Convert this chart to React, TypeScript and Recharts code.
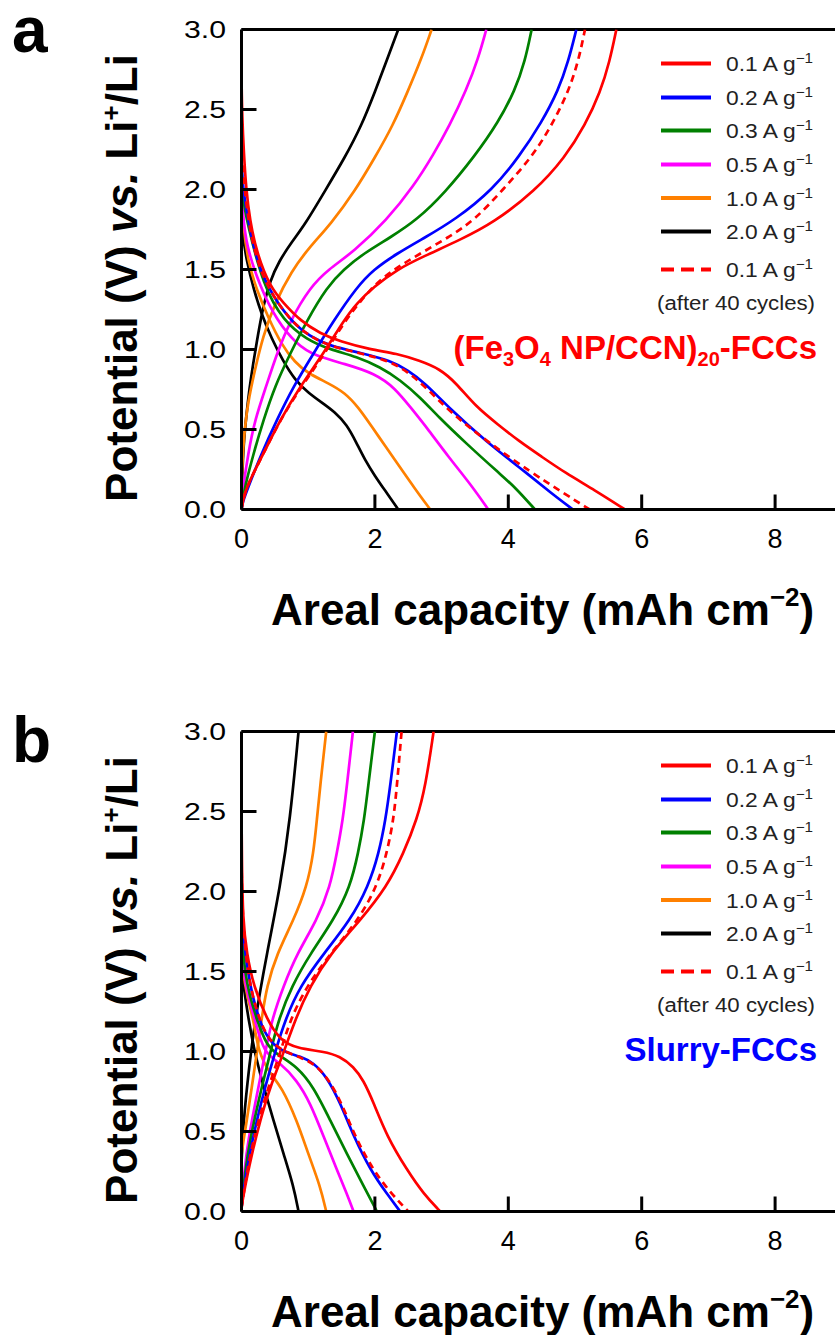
import React from 'react';
import { LineChart, Line, XAxis, YAxis, ReferenceLine, Legend, Label } from 'recharts';

type P = [number, number];

// ---------- axis ticks ----------
const xTicks = [0, 2, 4, 6, 8];
const yTicks = [0, 0.5, 1, 1.5, 2, 2.5, 3];

// ---------- legend ----------
const rateLabels = ['0.1', '0.2', '0.3', '0.5', '1.0', '2.0', '0.1'];
const rateColors = ['#ff0000', '#0000ff', '#008000', '#ff00ff', '#ff8000', '#000000', '#ff0000'];
const rateDashed = [false, false, false, false, false, false, true];

// ---------- panel a : (Fe3O4 NP/CCN)20-FCCs ----------
const aBlackDis: P[] = [[0, 1.88], [0.02, 1.7], [0.08, 1.55], [0.18, 1.38], [0.3, 1.22], [0.45, 1.07], [0.62, 0.93], [0.8, 0.81], [1.0, 0.73], [1.2, 0.67], [1.4, 0.61], [1.58, 0.53], [1.72, 0.42], [1.85, 0.31], [2.0, 0.21], [2.15, 0.12], [2.35, 0]];
const aBlackChg: P[] = [[0, 0.02], [0.01, 0.2], [0.03, 0.4], [0.07, 0.58], [0.12, 0.76], [0.17, 0.9], [0.25, 1.1], [0.33, 1.28], [0.43, 1.43], [0.56, 1.55], [0.75, 1.67], [0.95, 1.78], [1.25, 1.99], [1.55, 2.2], [1.8, 2.4], [2.0, 2.61], [2.19, 2.82], [2.35, 3.0]];
const aOrangeDis: P[] = [[0, 1.98], [0.03, 1.75], [0.1, 1.55], [0.22, 1.38], [0.4, 1.2], [0.6, 1.03], [0.8, 0.92], [1.0, 0.85], [1.3, 0.79], [1.55, 0.73], [1.75, 0.64], [1.95, 0.52], [2.15, 0.4], [2.35, 0.28], [2.6, 0.13], [2.83, 0]];
const aOrangeChg: P[] = [[0, 0.02], [0.005, 0.25], [0.035, 0.45], [0.095, 0.67], [0.2, 0.87], [0.32, 1.08], [0.5, 1.29], [0.75, 1.49], [1.0, 1.63], [1.35, 1.79], [1.7, 1.99], [2.0, 2.2], [2.27, 2.4], [2.49, 2.61], [2.7, 2.82], [2.85, 3.0]];
const aMagentaDis: P[] = [[0, 2.02], [0.02, 1.85], [0.07, 1.65], [0.28, 1.39], [0.53, 1.18], [0.83, 1.03], [1.1, 0.96], [1.55, 0.91], [2.0, 0.85], [2.3, 0.76], [2.55, 0.63], [2.8, 0.5], [3.1, 0.33], [3.45, 0.15], [3.7, 0]];
const aMagentaChg: P[] = [[0, 0.01], [0.01, 0.06], [0.025, 0.14], [0.1, 0.35], [0.2, 0.56], [0.37, 0.77], [0.53, 0.975], [0.73, 1.18], [1.03, 1.39], [1.3, 1.5], [1.68, 1.61], [2.18, 1.81], [2.58, 2.02], [2.88, 2.22], [3.12, 2.4], [3.37, 2.62], [3.55, 2.82], [3.67, 3.0]];
const aGreenDis: P[] = [[0, 2.08], [0.02, 1.95], [0.075, 1.81], [0.33, 1.39], [0.63, 1.18], [0.98, 1.06], [1.33, 1.0], [1.73, 0.955], [2.08, 0.89], [2.38, 0.81], [2.68, 0.7], [2.95, 0.58], [3.35, 0.42], [3.88, 0.22], [4.1, 0.14], [4.4, 0]];
const aGreenChg: P[] = [[0, 0], [0.02, 0.06], [0.05, 0.14], [0.18, 0.35], [0.33, 0.56], [0.5, 0.77], [0.73, 0.975], [0.98, 1.18], [1.28, 1.39], [1.53, 1.5], [1.83, 1.6], [2.23, 1.7], [2.63, 1.81], [3.05, 1.98], [3.5, 2.21], [3.85, 2.42], [4.1, 2.62], [4.25, 2.8], [4.35, 3.0]];
const aBlueDis: P[] = [[0, 2.2], [0.02, 2.0], [0.1, 1.81], [0.2, 1.6], [0.38, 1.39], [0.73, 1.18], [1.03, 1.08], [1.33, 1.02], [1.83, 0.975], [2.23, 0.93], [2.5, 0.87], [2.75, 0.79], [3.1, 0.64], [3.65, 0.43], [4.3, 0.22], [4.65, 0.1], [4.97, 0]];
const aBlueChg: P[] = [[0, 0], [0.02, 0.05], [0.1, 0.14], [0.3, 0.35], [0.53, 0.56], [0.78, 0.77], [1.08, 0.975], [1.38, 1.18], [1.73, 1.39], [1.98, 1.5], [2.33, 1.6], [2.75, 1.7], [3.2, 1.81], [3.77, 2.0], [4.17, 2.21], [4.5, 2.42], [4.75, 2.62], [4.9, 2.8], [5.02, 3.0]];
const aRedDashDis: P[] = [[0, 2.3], [0.02, 2.1], [0.1, 1.81], [0.2, 1.6], [0.38, 1.39], [0.73, 1.18], [1.03, 1.08], [1.33, 1.02], [1.8, 0.975], [2.2, 0.93], [2.5, 0.86], [2.8, 0.75], [3.15, 0.6], [3.7, 0.42], [4.35, 0.23], [4.8, 0.11], [5.22, 0]];
const aRedDashChg: P[] = [[0, 0], [0.02, 0.05], [0.05, 0.1], [0.12, 0.18], [0.33, 0.35], [0.58, 0.56], [0.9, 0.77], [1.25, 0.975], [1.55, 1.18], [1.95, 1.39], [2.28, 1.5], [2.68, 1.6], [3.1, 1.7], [3.5, 1.81], [3.92, 2.0], [4.35, 2.2], [4.65, 2.4], [4.9, 2.61], [5.05, 2.8], [5.15, 3.0]];
const aRedDis: P[] = [[0, 2.7], [0.01, 2.45], [0.035, 2.23], [0.07, 2.0], [0.125, 1.81], [0.23, 1.6], [0.43, 1.39], [0.63, 1.29], [0.88, 1.18], [1.18, 1.1], [1.48, 1.05], [1.93, 1.0], [2.33, 0.975], [2.67, 0.93], [2.97, 0.88], [3.22, 0.79], [3.52, 0.64], [3.85, 0.53], [4.15, 0.43], [4.5, 0.33], [4.85, 0.23], [5.3, 0.12], [5.75, 0]];
const aRedChg: P[] = [[0, 0], [0.02, 0.05], [0.05, 0.1], [0.12, 0.18], [0.33, 0.35], [0.58, 0.56], [0.88, 0.77], [1.23, 0.975], [1.53, 1.18], [1.73, 1.29], [1.98, 1.39], [2.33, 1.5], [2.72, 1.58], [3.3, 1.69], [3.77, 1.79], [4.4, 1.99], [4.85, 2.2], [5.15, 2.4], [5.38, 2.61], [5.52, 2.8], [5.62, 3.0]];

// ---------- panel b : Slurry-FCCs ----------
const bBlackDis: P[] = [[0, 1.6], [0.01, 1.5], [0.03, 1.41], [0.105, 1.2], [0.2, 0.99], [0.33, 0.78], [0.48, 0.57], [0.63, 0.36], [0.78, 0.16], [0.855, 0]];
const bBlackChg: P[] = [[0, 0.3], [0.02, 0.5], [0.08, 0.78], [0.2, 1.2], [0.38, 1.61], [0.58, 2.03], [0.73, 2.45], [0.855, 3.0]];
const bOrangeDis: P[] = [[0, 1.7], [0.02, 1.5], [0.08, 1.35], [0.18, 1.2], [0.255, 0.99], [0.43, 0.86], [0.6, 0.78], [0.83, 0.57], [1.0, 0.36], [1.18, 0.16], [1.27, 0]];
const bOrangeChg: P[] = [[0, 0.35], [0.02, 0.42], [0.08, 0.57], [0.155, 0.78], [0.23, 0.99], [0.3, 1.2], [0.38, 1.41], [0.53, 1.61], [0.78, 1.82], [0.98, 2.03], [1.08, 2.24], [1.13, 2.45], [1.18, 2.66], [1.27, 3.0]];
const bMagentaDis: P[] = [[0, 1.8], [0.01, 1.6], [0.05, 1.42], [0.2, 1.2], [0.33, 0.99], [0.58, 0.93], [0.83, 0.82], [1.03, 0.68], [1.23, 0.47], [1.43, 0.26], [1.58, 0.11], [1.68, 0]];
const bMagentaChg: P[] = [[0, 0.02], [0.01, 0.11], [0.07, 0.36], [0.155, 0.57], [0.255, 0.78], [0.355, 0.99], [0.455, 1.2], [0.63, 1.41], [0.83, 1.61], [1.13, 1.82], [1.33, 2.03], [1.43, 2.24], [1.52, 2.45], [1.58, 2.66], [1.67, 3.0]];
const bGreenDis: P[] = [[0, 1.9], [0.01, 1.7], [0.05, 1.5], [0.12, 1.35], [0.23, 1.2], [0.38, 1.03], [0.58, 0.97], [0.83, 0.905], [1.08, 0.78], [1.33, 0.57], [1.58, 0.36], [1.83, 0.16], [2.03, 0]];
const bGreenChg: P[] = [[0, 0.02], [0.015, 0.11], [0.09, 0.36], [0.19, 0.57], [0.305, 0.78], [0.43, 0.99], [0.555, 1.2], [0.755, 1.41], [1.03, 1.61], [1.38, 1.82], [1.63, 2.03], [1.75, 2.24], [1.84, 2.45], [1.9, 2.66], [2.0, 3.0]];
const bBlueDis: P[] = [[0, 2.0], [0.01, 1.8], [0.055, 1.61], [0.13, 1.41], [0.255, 1.2], [0.43, 1.05], [0.68, 0.99], [0.88, 0.97], [1.08, 0.93], [1.28, 0.84], [1.48, 0.68], [1.68, 0.47], [1.93, 0.26], [2.18, 0.11], [2.38, 0]];
const bBlueChg: P[] = [[0, 0.02], [0.02, 0.11], [0.12, 0.36], [0.23, 0.57], [0.355, 0.78], [0.5, 0.99], [0.655, 1.2], [0.88, 1.41], [1.23, 1.61], [1.63, 1.82], [1.9, 2.03], [2.06, 2.24], [2.16, 2.45], [2.23, 2.66], [2.33, 3.0]];
const bRedDashDis: P[] = [[0, 2.2], [0.01, 1.9], [0.06, 1.61], [0.13, 1.41], [0.26, 1.2], [0.44, 1.05], [0.7, 0.99], [0.9, 0.96], [1.1, 0.92], [1.3, 0.83], [1.5, 0.68], [1.7, 0.47], [1.97, 0.26], [2.25, 0.11], [2.5, 0]];
const bRedDashChg: P[] = [[0, 0.02], [0.03, 0.11], [0.13, 0.36], [0.255, 0.57], [0.405, 0.78], [0.58, 0.99], [0.73, 1.2], [0.98, 1.41], [1.33, 1.61], [1.75, 1.82], [2.03, 2.03], [2.18, 2.24], [2.28, 2.45], [2.33, 2.66], [2.4, 3.0]];
const bRedDis: P[] = [[0, 2.5], [0.005, 2.2], [0.02, 1.82], [0.08, 1.61], [0.18, 1.41], [0.38, 1.2], [0.58, 1.07], [0.83, 1.02], [1.23, 1.0], [1.48, 0.97], [1.68, 0.905], [1.83, 0.82], [1.98, 0.68], [2.18, 0.47], [2.48, 0.26], [2.73, 0.11], [2.98, 0]];
const bRedChg: P[] = [[0, 0.02], [0.03, 0.11], [0.155, 0.36], [0.28, 0.57], [0.43, 0.78], [0.63, 0.99], [0.805, 1.2], [1.03, 1.41], [1.33, 1.61], [1.78, 1.82], [2.18, 2.03], [2.43, 2.24], [2.63, 2.45], [2.76, 2.66], [2.88, 3.0]];

type Curve = { key: string; pts: P[]; color: string; dashed?: boolean };

const curvesA: Curve[] = [
  { key: 'aBlackDis', pts: aBlackDis, color: '#000000' },
  { key: 'aBlackChg', pts: aBlackChg, color: '#000000' },
  { key: 'aOrangeDis', pts: aOrangeDis, color: '#ff8000' },
  { key: 'aOrangeChg', pts: aOrangeChg, color: '#ff8000' },
  { key: 'aMagentaDis', pts: aMagentaDis, color: '#ff00ff' },
  { key: 'aMagentaChg', pts: aMagentaChg, color: '#ff00ff' },
  { key: 'aGreenDis', pts: aGreenDis, color: '#008000' },
  { key: 'aGreenChg', pts: aGreenChg, color: '#008000' },
  { key: 'aBlueDis', pts: aBlueDis, color: '#0000ff' },
  { key: 'aBlueChg', pts: aBlueChg, color: '#0000ff' },
  { key: 'aRedDashDis', pts: aRedDashDis, color: '#ff0000', dashed: true },
  { key: 'aRedDashChg', pts: aRedDashChg, color: '#ff0000', dashed: true },
  { key: 'aRedDis', pts: aRedDis, color: '#ff0000' },
  { key: 'aRedChg', pts: aRedChg, color: '#ff0000' },
];

const curvesB: Curve[] = [
  { key: 'bBlackDis', pts: bBlackDis, color: '#000000' },
  { key: 'bBlackChg', pts: bBlackChg, color: '#000000' },
  { key: 'bOrangeDis', pts: bOrangeDis, color: '#ff8000' },
  { key: 'bOrangeChg', pts: bOrangeChg, color: '#ff8000' },
  { key: 'bMagentaDis', pts: bMagentaDis, color: '#ff00ff' },
  { key: 'bMagentaChg', pts: bMagentaChg, color: '#ff00ff' },
  { key: 'bGreenDis', pts: bGreenDis, color: '#008000' },
  { key: 'bGreenChg', pts: bGreenChg, color: '#008000' },
  { key: 'bBlueDis', pts: bBlueDis, color: '#0000ff' },
  { key: 'bBlueChg', pts: bBlueChg, color: '#0000ff' },
  { key: 'bRedDashDis', pts: bRedDashDis, color: '#ff0000', dashed: true },
  { key: 'bRedDashChg', pts: bRedDashChg, color: '#ff0000', dashed: true },
  { key: 'bRedDis', pts: bRedDis, color: '#ff0000' },
  { key: 'bRedChg', pts: bRedChg, color: '#ff0000' },
];

const toData = (pts: P[]) => pts.map(([x, v]) => ({ x, v }));

const FONT = '"Liberation Sans", Arial, Helvetica, sans-serif';

const YTick = (props: any) => {
  const { x, y, payload } = props;
  return (
    <g>
      <line x1={x} x2={x + 15} y1={y} y2={y} stroke="#000" strokeWidth={3} />
      <text x={x - 15.5} y={y + 8} textAnchor="end" fontSize={23} fill="#000" textLength={42} lengthAdjust="spacingAndGlyphs">
        {Number(payload.value).toFixed(1)}
      </text>
    </g>
  );
};

const XTick = (props: any) => {
  const { x, y, payload } = props;
  return (
    <g>
      <line x1={x} x2={x} y1={y} y2={y - 15} stroke="#000" strokeWidth={3} />
      <text x={x} y={y + 38.5} textAnchor="middle" fontSize={27} fill="#000">
        {payload.value}
      </text>
    </g>
  );
};

const XTitle = () => (
  <text x={271} y={625} fontSize={44} fontWeight="bold" fill="#000">
    Areal capacity (mAh cm
    <tspan dy={-19} fontSize={26}>−2</tspan>
    <tspan dy={19}>)</tspan>
  </text>
);

const YTitle = ({ letter, letterY }: { letter: string; letterY: number }) => (
  <g>
    <text x={12} y={letterY} fontSize={64} fontWeight="bold" fill="#000">{letter}</text>
    <text transform="rotate(-90)" x={-278} y={137} textAnchor="middle" fontSize={44} fontWeight="bold" fill="#000">
      Potential (V) <tspan fontStyle="italic">vs.</tspan> Li
      <tspan dy={-17} fontSize={26}>+</tspan>
      <tspan dy={17}>/Li</tspan>
    </text>
  </g>
);

const LegendBox = ({ tag }: { tag: 'a' | 'b' }) => {
  const rows = [23.5, 57.5, 90.5, 124.5, 158, 191.5, 229.5];
  return (
    <svg width={395} height={340} style={{ display: 'block', fontFamily: FONT }}>
      {rateLabels.map((r, i) => (
        <g key={i}>
          <line x1={221} x2={271} y1={rows[i]} y2={rows[i]} stroke={rateColors[i]} strokeWidth={4}
            strokeDasharray={rateDashed[i] ? '13 7' : undefined} />
          <text x={286} y={rows[i] + 7.5} fontSize={21} fill="#222" textLength={87} lengthAdjust="spacingAndGlyphs">
            {r} A g<tspan dy={-8} fontSize={14}>−1</tspan>
          </text>
        </g>
      ))}
      <text x={217} y={270} fontSize={20} fill="#222" textLength={158} lengthAdjust="spacingAndGlyphs">(after 40 cycles)</text>
      {tag === 'a' ? (
        <text x={377} y={319} textAnchor="end" fontSize={33} fontWeight="bold" fill="#ff0000">
          (Fe<tspan dy={7} fontSize={20}>3</tspan>
          <tspan dy={-7}>O</tspan>
          <tspan dy={7} fontSize={20}>4</tspan>
          <tspan dy={-7}> NP/CCN)</tspan>
          <tspan dy={7} fontSize={20}>20</tspan>
          <tspan dy={-7}>-FCCs</tspan>
        </text>
      ) : (
        <text x={377} y={319} textAnchor="end" fontSize={33} fontWeight="bold" fill="#0000ff">Slurry-FCCs</text>
      )}
    </svg>
  );
};

const Panel = ({ tag, curves, letterY }: { tag: 'a' | 'b'; curves: Curve[]; letterY: number }) => (
  <LineChart width={1000} height={680} margin={{ top: 29.5, right: 91.5, bottom: 130.5, left: 181.5 }}>
    <XAxis type="number" dataKey="x" domain={[0, 10]} ticks={xTicks} interval={0} allowDataOverflow
      tick={XTick} tickLine={false} tickSize={0} tickMargin={0} height={40}
      axisLine={{ stroke: '#000', strokeWidth: 3 }}>
      <Label content={() => <XTitle />} />
    </XAxis>
    <YAxis type="number" dataKey="v" domain={[0, 3]} ticks={yTicks} interval={0} allowDataOverflow
      tick={YTick} tickLine={false} tickSize={0} tickMargin={0} width={60}
      axisLine={{ stroke: '#000', strokeWidth: 3 }}>
      <Label content={() => <YTitle letter={tag} letterY={letterY} />} />
    </YAxis>
    <ReferenceLine y={3} stroke="#000" strokeWidth={3} />
    {curves.map((c) => (
      <Line key={c.key} data={toData(c.pts)} dataKey="v" type="basis" stroke={c.color} strokeWidth={2.7}
        strokeDasharray={c.dashed ? '7 5' : undefined} dot={false} activeDot={false}
        isAnimationActive={false} legendType="none" />
    ))}
    <Legend layout="vertical" align="center" verticalAlign="middle"
      wrapperStyle={{ left: 440, top: 40, width: 395, height: 340 }}
      content={() => <LegendBox tag={tag} />} />
  </LineChart>
);

export default function App() {
  return (
    <div style={{ position: 'fixed', left: 0, top: 0, width: 835, height: 1335, overflow: 'hidden', background: '#fff', fontFamily: FONT }}>
      <div style={{ position: 'absolute', left: 0, top: 0 }}>
        <Panel tag="a" curves={curvesA} letterY={52} />
      </div>
      <div style={{ position: 'absolute', left: 0, top: 702 }}>
        <Panel tag="b" curves={curvesB} letterY={60} />
      </div>
    </div>
  );
}
